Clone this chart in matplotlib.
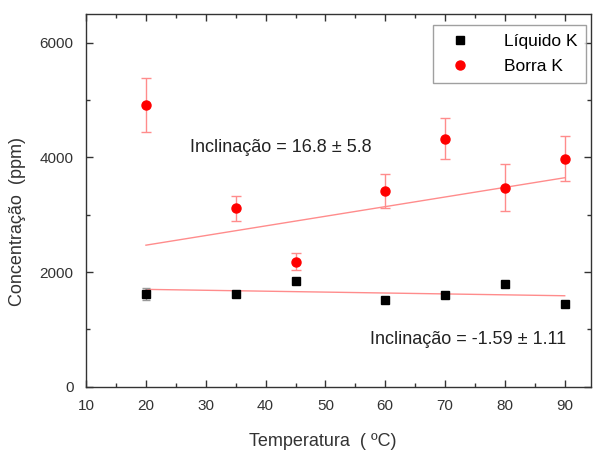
import matplotlib
matplotlib.use("Agg")
import matplotlib.pyplot as plt
import numpy as np
from matplotlib.ticker import MultipleLocator

plt.rcParams['font.family'] = ['Liberation Sans', 'DejaVu Sans']

# data
temps = [20, 35, 45, 60, 70, 80, 90]

borra = [4920, 3110, 2180, 3410, 4330, 3470, 3980]
borra_err = [470, 220, 150, 300, 350, 410, 395]

liquido = [1620, 1620, 1840, 1520, 1605, 1785, 1445]
liquido_err = [105, 40, 40, 50, 30, 50, 30]

# linear fits (slope, intercept)
borra_fit = (16.8, 2134)
liquido_fit = (-1.59, 1731)

borra_label = "Inclinação = 16.8 ± 5.8"
liquido_label = "Inclinação = -1.59 ± 1.11"

fig = plt.figure(figsize=(5.94, 4.54), dpi=100)
ax = fig.add_axes([0.145, 0.148, 0.85, 0.821])

fit_x = np.array([temps[0], temps[-1]])
ax.plot(fit_x, borra_fit[0] * fit_x + borra_fit[1], color='#ff8c8c', lw=1.0, zorder=1)
ax.plot(fit_x, liquido_fit[0] * fit_x + liquido_fit[1], color='#ff8c8c', lw=1.0, zorder=1)

ax.errorbar(temps, liquido, yerr=liquido_err, fmt='s', color='black', ms=5.5,
            ecolor='#999999', elinewidth=1, capsize=3, capthick=1,
            label='Líquido K', zorder=3)
ax.errorbar(temps, borra, yerr=borra_err, fmt='o', color='red', ms=6.5,
            ecolor='#ff8c8c', elinewidth=1, capsize=3.5, capthick=1,
            label='Borra K', zorder=3)

ax.text(27.4, 4180, borra_label, fontsize=13, va='center', ha='left', color='#222222')
ax.text(57.4, 820, liquido_label, fontsize=13, va='center', ha='left', color='#222222')

ax.set_xlim(10, 94.4)
ax.set_ylim(0, 6500)
ax.xaxis.set_major_locator(MultipleLocator(10))
ax.xaxis.set_minor_locator(MultipleLocator(5))
ax.yaxis.set_major_locator(MultipleLocator(2000))
ax.yaxis.set_minor_locator(MultipleLocator(1000))
ax.tick_params(which='both', direction='in', top=True, right=True,
               labelsize=11, colors='#333333')
ax.tick_params(which='major', length=5, width=1)
ax.tick_params(which='minor', length=3, width=1)
ax.tick_params(axis='x', which='major', pad=9)
ax.tick_params(axis='y', which='major', pad=9)
for sp in ax.spines.values():
    sp.set_color('#333333')
    sp.set_linewidth(1)

ax.set_xlabel("Temperatura  ( ºC)", fontsize=13, color='#333333')
ax.set_ylabel("Concentração  (ppm)", fontsize=13, color='#333333')
ax.xaxis.set_label_coords(0.469, -0.125)
ax.yaxis.set_label_coords(-0.12, 0.444)

handles, labels = ax.get_legend_handles_labels()
handles = [h[0] for h in handles]
leg = ax.legend(handles, labels, loc='upper right', fontsize=12.5, frameon=True,
                fancybox=False, edgecolor='#888888', borderaxespad=0,
                bbox_to_anchor=(0.9865, 0.945), bbox_transform=fig.transFigure,
                borderpad=0.5, labelspacing=0.6,
                handletextpad=1.4, handlelength=2.2)
leg.get_frame().set_linewidth(1)

fig.savefig("out.png", dpi=100)
